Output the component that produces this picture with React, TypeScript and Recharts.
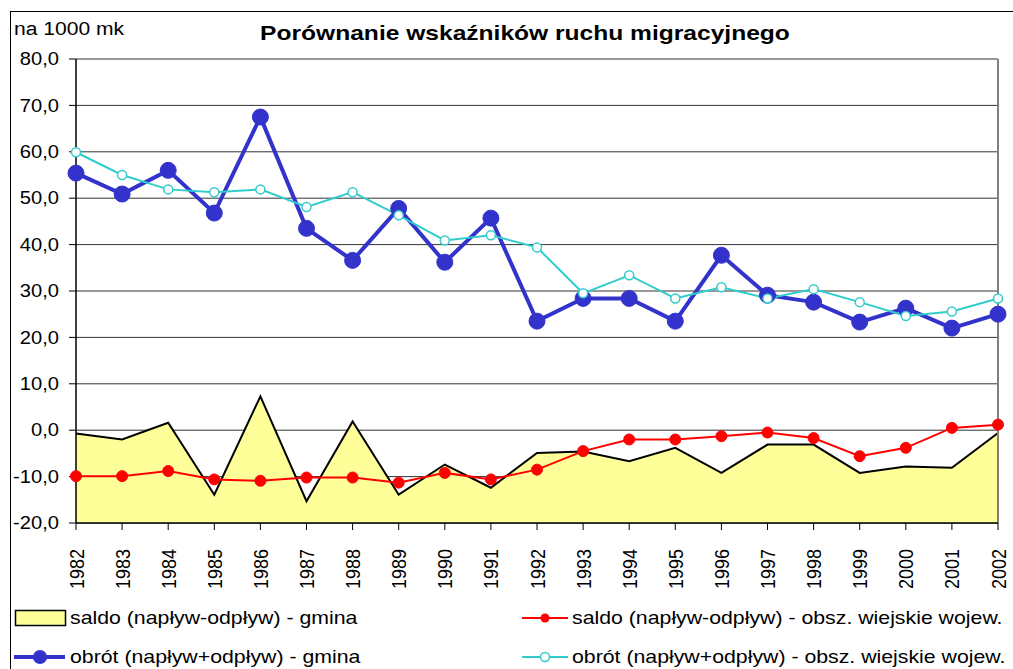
import React from 'react';
import {
  ComposedChart,
  Line,
  Area,
  XAxis,
  YAxis,
  CartesianGrid,
  ReferenceLine,
  Legend,
} from 'recharts';

const years = [
  '1982', '1983', '1984', '1985', '1986', '1987', '1988', '1989', '1990', '1991', '1992',
  '1993', '1994', '1995', '1996', '1997', '1998', '1999', '2000', '2001', '2002',
];

// saldo (napływ-odpływ) - gmina
const saldoGmina = [
  -0.7, -2.0, 1.6, -13.9, 7.3, -15.3, 1.9, -13.9, -7.4, -12.4, -4.9,
  -4.6, -6.7, -3.8, -9.2, -3.1, -3.1, -9.2, -7.8, -8.1, -0.6,
];

// saldo (napływ-odpływ) - obsz. wiejskie wojew.
const saldoWies = [
  -9.9, -9.9, -8.8, -10.6, -10.9, -10.2, -10.2, -11.3, -9.2, -10.6, -8.5,
  -4.5, -2.0, -2.0, -1.3, -0.5, -1.7, -5.6, -3.8, 0.5, 1.2,
];

// obrót (napływ+odpływ) - gmina
const obrotGmina = [
  55.4, 50.9, 56.0, 46.8, 67.5, 43.5, 36.6, 47.8, 36.2, 45.7, 23.5,
  28.4, 28.4, 23.5, 37.7, 29.1, 27.6, 23.3, 26.3, 22.0, 25.0,
];

// obrót (napływ+odpływ) - obsz. wiejskie wojew.
const obrotWies = [
  59.9, 55.0, 51.9, 51.3, 51.9, 48.1, 51.3, 46.3, 40.9, 42.0, 39.4,
  29.5, 33.4, 28.4, 30.8, 28.4, 30.4, 27.6, 24.6, 25.6, 28.4,
];

const yTicks = [-20, -10, 0, 10, 20, 30, 40, 50, 60, 70, 80];

const data = years.map((year, i) => ({
  year,
  saldoGmina: saldoGmina[i],
  saldoWies: saldoWies[i],
  obrotGmina: obrotGmina[i],
  obrotWies: obrotWies[i],
}));

const FONT = '"Liberation Sans", Arial, sans-serif';
// the original picture is a little wider than tall text would be
const STRETCH = 1.17;

function YearTick(props: any) {
  const { x, y, payload } = props;
  return (
    <text
      x={0}
      y={0}
      transform={`translate(${x},${y + 17}) scale(${STRETCH},1) rotate(-90)`}
      textAnchor="end"
      dominantBaseline="central"
      fontSize={18}
      fill="#000"
      fontFamily={FONT}
    >
      {payload.value}
    </text>
  );
}

function ValueTick(props: any) {
  const { x, y, payload } = props;
  return (
    <text
      x={0}
      y={0}
      transform={`translate(${x},${y}) scale(1.12,1)`}
      textAnchor="end"
      dominantBaseline="central"
      fontSize={18}
      fill="#000"
      fontFamily={FONT}
    >
      {payload.value.toFixed(1).replace('.', ',')}
    </text>
  );
}

function LegendBox() {
  const item = (w: number, swatch: React.ReactNode, label: string) => (
    <div style={{ display: 'flex', alignItems: 'center', height: 39 }}>
      <svg width={w} height={20} style={{ flex: 'none' }}>
        {swatch}
      </svg>
      <span
        style={{
          fontSize: 19,
          whiteSpace: 'nowrap',
          display: 'inline-block',
          transform: 'scaleX(1.12)',
          transformOrigin: 'left center',
        }}
      >
        {label}
      </span>
    </div>
  );
  return (
    <div
      style={{
        display: 'grid',
        gridTemplateColumns: '508px 480px',
        fontFamily: FONT,
        color: '#000',
      }}
    >
      {item(
        58,
        <rect x={3.5} y={2.5} width={50} height={15} fill="#FFFF99" stroke="#000" strokeWidth={1.5} />,
        'saldo (napływ-odpływ) - gmina',
      )}
      {item(
        52,
        <g>
          <line x1={2} y1={10} x2={48} y2={10} stroke="#FF0000" strokeWidth={2} />
          <circle cx={25} cy={10} r={4.5} fill="#FF0000" />
        </g>,
        'saldo (napływ-odpływ) - obsz. wiejskie wojew.',
      )}
      {item(
        58,
        <g>
          <line x1={2} y1={10} x2={53} y2={10} stroke="#3333CC" strokeWidth={4} />
          <circle cx={28} cy={10} r={7} fill="#3333CC" />
        </g>,
        'obrót (napływ+odpływ) - gmina',
      )}
      {item(
        52,
        <g>
          <line x1={2} y1={10} x2={48} y2={10} stroke="#33CCCC" strokeWidth={2} />
          <circle cx={25} cy={10} r={4.5} fill="#fff" stroke="#33CCCC" strokeWidth={1.5} />
        </g>,
        'obrót (napływ+odpływ) - obsz. wiejskie wojew.',
      )}
    </div>
  );
}

export default function App() {
  return (
    <div
      style={{
        position: 'absolute',
        left: 0,
        top: 0,
        width: 1013,
        height: 669,
        overflow: 'hidden',
        background: '#fff',
        fontFamily: FONT,
      }}
    >
      <div
        style={{
          position: 'absolute',
          left: 10,
          top: 11,
          width: 1100,
          height: 800,
          border: '1px solid #000',
        }}
      />
      <div
        style={{
          position: 'absolute',
          left: 14,
          top: 18,
          fontSize: 18,
          lineHeight: '22px',
          transform: `scaleX(${STRETCH})`,
          transformOrigin: 'left center',
        }}
      >
        na 1000 mk
      </div>
      <div
        style={{
          position: 'absolute',
          left: 0,
          width: 1050,
          top: 21,
          textAlign: 'center',
          fontSize: 21,
          fontWeight: 'bold',
          lineHeight: '24px',
          transform: `scaleX(${STRETCH})`,
          transformOrigin: '525px center',
        }}
      >
        Porównanie wskaźników ruchu migracyjnego
      </div>
      <ComposedChart
        width={1013}
        height={669}
        data={data}
        margin={{ top: 59, right: 15, left: 0, bottom: 76 }}
        style={{ position: 'absolute', left: 0, top: 0 }}
      >
        <CartesianGrid horizontal vertical={false} stroke="#333" strokeWidth={1} />
        <XAxis
          dataKey="year"
          interval={0}
          height={70}
          tick={<YearTick />}
          tickSize={7}
          axisLine={{ stroke: '#000', strokeWidth: 1.5 }}
          tickLine={{ stroke: '#000' }}
          padding={{ left: 0, right: 0 }}
        />
        <YAxis
          width={76}
          domain={[-20, 80]}
          ticks={yTicks}
          interval={0}
          tickSize={7}
          tickMargin={10}
          tick={<ValueTick />}
          axisLine={{ stroke: '#000', strokeWidth: 1.5 }}
          tickLine={{ stroke: '#000' }}
        />
        <ReferenceLine x="2002" stroke="#808080" strokeWidth={2} />
        <Area
          type="linear"
          dataKey="saldoGmina"
          baseValue="dataMin"
          fill="#FFFF99"
          fillOpacity={1}
          stroke="#000"
          strokeWidth={2}
          isAnimationActive={false}
        />
        <Line
          type="linear"
          dataKey="saldoWies"
          stroke="#FF0000"
          strokeWidth={2}
          dot={{ r: 5.5, fill: '#FF0000', stroke: '#FF0000', strokeWidth: 1 }}
          isAnimationActive={false}
        />
        <Line
          type="linear"
          dataKey="obrotGmina"
          stroke="#3333CC"
          strokeWidth={4}
          dot={{ r: 8, fill: '#3333CC', stroke: '#3333CC', strokeWidth: 1 }}
          isAnimationActive={false}
        />
        <Line
          type="linear"
          dataKey="obrotWies"
          stroke="#33CCCC"
          strokeWidth={2}
          dot={{ r: 4.5, fill: '#fff', stroke: '#33CCCC', strokeWidth: 1.5 }}
          isAnimationActive={false}
        />
        <Legend
          layout="horizontal"
          verticalAlign="middle"
          align="center"
          wrapperStyle={{ top: 598, left: 12, width: 1010 }}
          content={() => <LegendBox />}
        />
      </ComposedChart>
    </div>
  );
}
